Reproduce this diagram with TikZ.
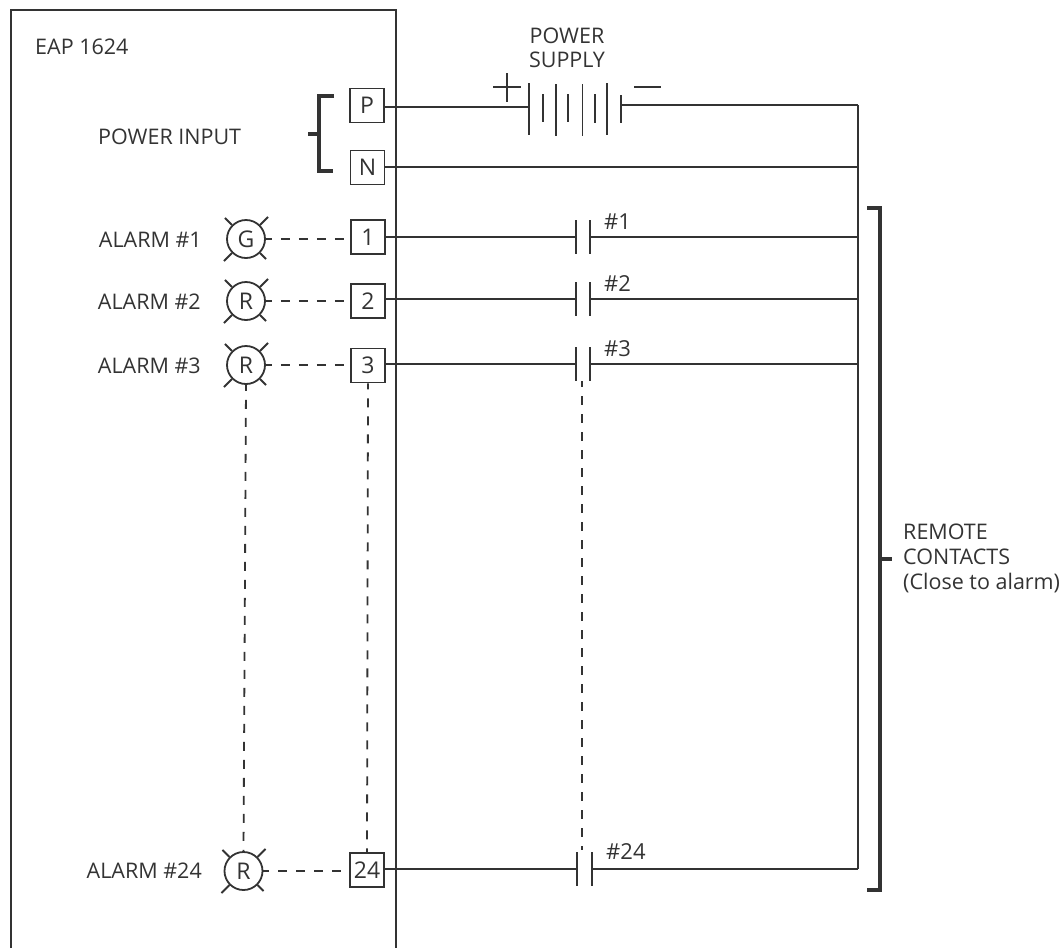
\documentclass[tikz,border=0pt]{standalone}
\usepackage{fontspec}
\setmainfont{Open Sans}
\definecolor{ink}{HTML}{333333}
\tikzset{
  ln/.style={draw=ink,line width=1.8pt},
  heavy/.style={draw=ink,line width=3.5pt},
  dsh/.style={draw=ink,line width=1.8pt,dash pattern=on 9pt off 9pt,dash phase=3pt},
  term/.style={draw=ink,line width=1.8pt,minimum width=34pt,minimum height=34pt,inner sep=0pt,font=\fontsize{23}{23}\selectfont,text=ink},
  lamp/.style={circle,draw=ink,line width=1.8pt,minimum size=38pt,inner sep=0pt,font=\fontsize{23}{23}\selectfont,text=ink},
  lab/.style={inner sep=0pt,font=\fontsize{21.5}{25}\selectfont,text=ink},
  num/.style={inner sep=0pt,font=\fontsize{22}{22}\selectfont,text=ink}
}
\newcommand{\rays}[1]{%
  \draw[ln] (#1.45) -- ++(8,-8);
  \draw[ln] (#1.135) -- ++(-7,-7);
  \draw[ln] (#1.225) -- ++(-8,8);
  \draw[ln] (#1.315) -- ++(6,6);
}
\newcommand{\contact}[2]{%
  \draw[ln] ($(#1)+(0,-17)$) -- ($(#1)+(0,17)$);
  \draw[ln] ($(#2)+(0,-17)$) -- ($(#2)+(0,17)$);
}
\usetikzlibrary{calc}
\begin{document}
\begin{tikzpicture}[x=1pt,y=-1pt]
\useasboundingbox (0,0) rectangle (1062,948);
% enclosure
\coordinate (bl) at (11,948); \coordinate (tl) at (11,10);
\coordinate (tr) at (396,10); \coordinate (br) at (396,948);
\draw[ln] (bl) -- (tl) -- (tr) -- (br);
% terminals
\node[term] (P) at (367,105.5) {P};
\node[term] (N) at (367.5,167.5) {N};
\node[term] (T1) at (368,237) {1};
\node[term] (T2) at (368,301) {2};
\node[term] (T3) at (368,365.5) {3};
\node[term] (T24) at (367,870) {24};
% lamps
\node[lamp] (L1) at (246,239) {G};
\node[lamp] (L2) at (246,301) {R};
\node[lamp] (L3) at (246,365) {R};
\node[lamp] (L24) at (243.5,871) {R};
\rays{L1}\rays{L2}\rays{L3}\rays{L24}
% labels
\node[lab,anchor=west] (eap) at (35,47) {EAP 1624};
\node[lab,anchor=west] (pin) at (98,137) {POWER INPUT};
\node[lab,align=center] (ps) at (567,48) {POWER\\[-1pt]SUPPLY};
\node[lab,anchor=east] (a1) at (202,240) {ALARM \#1};
\node[lab,anchor=east] (a2) at (201,302) {ALARM \#2};
\node[lab,anchor=east] (a3) at (201,366) {ALARM \#3};
\node[lab,anchor=east] (a24) at (202,871) {ALARM \#24};
\node[lab,anchor=west,align=left] (rc) at (903,558) {REMOTE\\CONTACTS\\(Close to alarm)};
% power bracket
\coordinate (ba) at (334,96); \coordinate (bb) at (319,96);
\coordinate (bc) at (319,171); \coordinate (bd) at (333,171);
\coordinate (be) at (308,134); \coordinate (bf) at (319,134);
\draw[heavy] (ba) -- (bb) -- (bc) -- (bd);
\draw[heavy] (be) -- (bf);
% remote bracket
\coordinate (ra) at (867,208); \coordinate (rb) at (880,208);
\coordinate (rc1) at (880,890); \coordinate (rd) at (867,890);
\coordinate (re) at (880,559); \coordinate (rf) at (892,559);
\draw[heavy] (ra) -- (rb) -- (rc1) -- (rd);
\draw[heavy] (re) -- (rf);
% battery
\coordinate (b1) at (529,107); \coordinate (b8) at (621,105);
\draw[ln] (529,83) -- (529,135);
\draw[ln] (543,94) -- (543,122);
\draw[ln] (556,84) -- (556,136);
\draw[ln] (568,94) -- (568,122);
\draw[ln] (582.5,84) -- (582.5,136);
\draw[ln] (595,94) -- (595,123);
\draw[ln] (607,83) -- (607,135);
\draw[ln] (621,95) -- (621,123);
\draw[ln] (493,87) -- (521,87);
\draw[ln] (507,73) -- (507,102);
\draw[ln] (634,87) -- (661,87);
% bus
\coordinate (busP) at (858,105);
\coordinate (busN) at (858,167);
\coordinate (bus1) at (858,237);
\coordinate (bus2) at (858,299);
\coordinate (bus3) at (858,364);
\coordinate (bus24) at (858,869);
\draw[ln] (busP) -- (bus24);
\draw[ln] (P.east |- b1) -- (b1);
\draw[ln] (b8) -- (busP);
\draw[ln] (N.east |- busN) -- (busN);
% contacts
\coordinate (c1l) at (576,237); \coordinate (c1r) at (590,237);
\coordinate (c2l) at (576,299); \coordinate (c2r) at (590,299);
\coordinate (c3l) at (576,364); \coordinate (c3r) at (590,364);
\coordinate (c24l) at (577,869); \coordinate (c24r) at (592,869);
\contact{c1l}{c1r}\contact{c2l}{c2r}\contact{c3l}{c3r}\contact{c24l}{c24r}
\draw[ln] (T1.east |- c1l) -- (c1l);  \draw[ln] (c1r) -- (bus1);
\draw[ln] (T2.east |- c2l) -- (c2l);  \draw[ln] (c2r) -- (bus2);
\draw[ln] (T3.east |- c3l) -- (c3l);  \draw[ln] (c3r) -- (bus3);
\draw[ln] (T24.east |- c24l) -- (c24l); \draw[ln] (c24r) -- (bus24);
\node[num,anchor=west] (n1) at (604,222) {\#1};
\node[num,anchor=west] (n2) at (604,284) {\#2};
\node[num,anchor=west] (n3) at (604,349) {\#3};
\node[num,anchor=west] (n24) at (606,852) {\#24};
% dashed links
\draw[dsh] (L1.east) -- (T1.west |- L1.east);
\draw[dsh] (L2.east) -- (T2.west |- L2.east);
\draw[dsh] (L3.east) -- (T3.west |- L3.east);
\draw[dsh] (L24.east) -- (T24.west |- L24.east);
\draw[dsh] (L3.south) -- (L24.north);
\draw[dsh] (T3.south) -- (T24.north);
\coordinate (c3m) at (582,381); \coordinate (c24m) at (582,850);
\draw[dsh] (c3m) -- (c24m);
\end{tikzpicture}
\end{document}
